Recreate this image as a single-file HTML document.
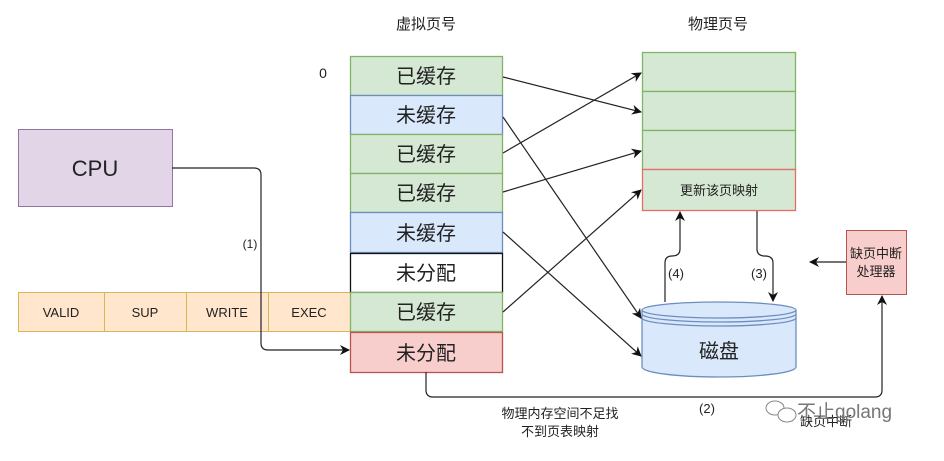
<!DOCTYPE html>
<html><head><meta charset="utf-8"><style>
body{margin:0;background:#fff;width:944px;height:456px;overflow:hidden}
svg text{font-family:"Liberation Sans","Noto Sans CJK SC",sans-serif;fill:#222}
</style></head><body>
<svg width="944" height="456" viewBox="0 0 944 456" xmlns="http://www.w3.org/2000/svg">
<defs><marker id="a" markerWidth="10" markerHeight="10" refX="9" refY="5" orient="auto" markerUnits="userSpaceOnUse"><path d="M0,0 L10,5 L0,10 L3,5z" fill="#111"/></marker></defs>
<text x="426" y="29" font-size="15" text-anchor="middle">虚拟页号</text>
<text x="718" y="29" font-size="15" text-anchor="middle">物理页号</text>
<text x="323" y="78" font-size="14" text-anchor="middle">0</text>
<rect x="18.5" y="129.5" width="154" height="77" fill="#e1d5e7" stroke="#9673a6"/>
<text x="95" y="176" font-size="22" text-anchor="middle">CPU</text>
<g stroke="#d6b656" fill="#ffe6cc">
<rect x="18.5" y="172.5" width="0" height="0"/>
<rect x="18.5" y="292.5" width="86" height="39"/><rect x="104.5" y="292.5" width="82" height="39"/><rect x="186.5" y="292.5" width="82" height="39"/><rect x="268.5" y="292.5" width="82" height="39"/>
</g>
<g font-size="13" text-anchor="middle"><text x="61" y="317">VALID</text><text x="145" y="317">SUP</text><text x="227" y="317">WRITE</text><text x="309" y="317">EXEC</text></g>
<g stroke-width="1.3">
<rect x="350.5" y="56.5" width="152" height="39" fill="#d5e8d4" stroke="#82b366"/>
<rect x="350.5" y="95.5" width="152" height="39" fill="#dae8fc" stroke="#6c8ebf"/>
<rect x="350.5" y="134.5" width="152" height="39" fill="#d5e8d4" stroke="#82b366"/>
<rect x="350.5" y="173.5" width="152" height="39" fill="#d5e8d4" stroke="#82b366"/>
<rect x="350.5" y="212.5" width="152" height="40" fill="#dae8fc" stroke="#6c8ebf"/>
<rect x="350.5" y="253.5" width="152" height="39" fill="#fff" stroke="#111"/>
<rect x="350.5" y="292.5" width="152" height="39" fill="#d5e8d4" stroke="#82b366"/>
<rect x="350.5" y="332.5" width="152" height="40" fill="#f8cecc" stroke="#b85450"/>
</g>
<g font-size="20" text-anchor="middle">
<text x="426" y="83">已缓存</text><text x="426" y="122">未缓存</text><text x="426" y="161">已缓存</text><text x="426" y="200">已缓存</text><text x="426" y="240">未缓存</text><text x="426" y="280">未分配</text><text x="426" y="319">已缓存</text><text x="426" y="360">未分配</text>
</g>
<g fill="#d5e8d4" stroke="#82b366" stroke-width="1.3">
<rect x="642.5" y="52.5" width="153" height="39"/><rect x="642.5" y="91.5" width="153" height="39"/><rect x="642.5" y="130.5" width="153" height="39"/>
</g>
<rect x="642.5" y="169.5" width="153" height="41" fill="#d5e8d4" stroke="#ea6b66" stroke-width="1.3"/>
<text x="719" y="195" font-size="13" text-anchor="middle">更新该页映射</text>
<g fill="#dae8fc" stroke="#6c8ebf" stroke-width="1.3">
<path d="M642,310 L642,367 A77,10 0 0 0 796,367 L796,310"/>
<ellipse cx="719" cy="310" rx="77" ry="8"/>
<path d="M642,314 A77,8 0 0 0 796,314 M642,318 A77,8 0 0 0 796,318" fill="none"/>
</g>
<text x="719" y="358" font-size="20" text-anchor="middle">磁盘</text>
<rect x="846.5" y="230.5" width="60" height="64" fill="#f8cecc" stroke="#b85450"/>
<text x="876" y="258" font-size="13" text-anchor="middle">缺页中断</text>
<text x="876" y="276" font-size="13" text-anchor="middle">处理器</text>
<g stroke="#222" stroke-width="1.2" fill="none" marker-end="url(#a)">
<line x1="503" y1="77" x2="641" y2="112"/>
<line x1="503" y1="153" x2="641" y2="73"/>
<line x1="503" y1="192" x2="641" y2="151"/>
<line x1="503" y1="117" x2="641" y2="318"/>
<line x1="503" y1="232" x2="641" y2="356"/>
<line x1="503" y1="312" x2="641" y2="190"/>
<path d="M172,168 H254 Q261,168 261,175 V343 Q261,350 268,350 H349"/>
<path d="M426,372 V390 Q426,397 433,397 H875 Q882,397 882,390 V296"/>
<path d="M846,262 H810"/>
<path d="M665,302 V263 Q665,256 672,256 Q680,256 680,249 V212"/>
<path d="M757,211 V249 Q757,256 765,256 Q773,256 773,263 V301"/>
</g>
<text x="250" y="248" font-size="12" text-anchor="middle">(1)</text>
<text x="676" y="278" font-size="13" text-anchor="middle">(4)</text>
<text x="759" y="278" font-size="13" text-anchor="middle">(3)</text>
<text x="707" y="413" font-size="13" text-anchor="middle">(2)</text>
<text x="560" y="418" font-size="13" text-anchor="middle">物理内存空间不足找</text>
<text x="560" y="436" font-size="13" text-anchor="middle">不到页表映射</text>
<text x="826" y="426" font-size="13" text-anchor="middle">缺页中断</text>
<g stroke="#888" fill="#fff" stroke-width="1"><ellipse cx="775" cy="408" rx="9" ry="7"/><ellipse cx="787" cy="415" rx="9" ry="7"/></g>
<text x="797" y="418" font-size="19" fill="#666" style="fill:#777">不止golang</text>
</svg>
</body></html>
